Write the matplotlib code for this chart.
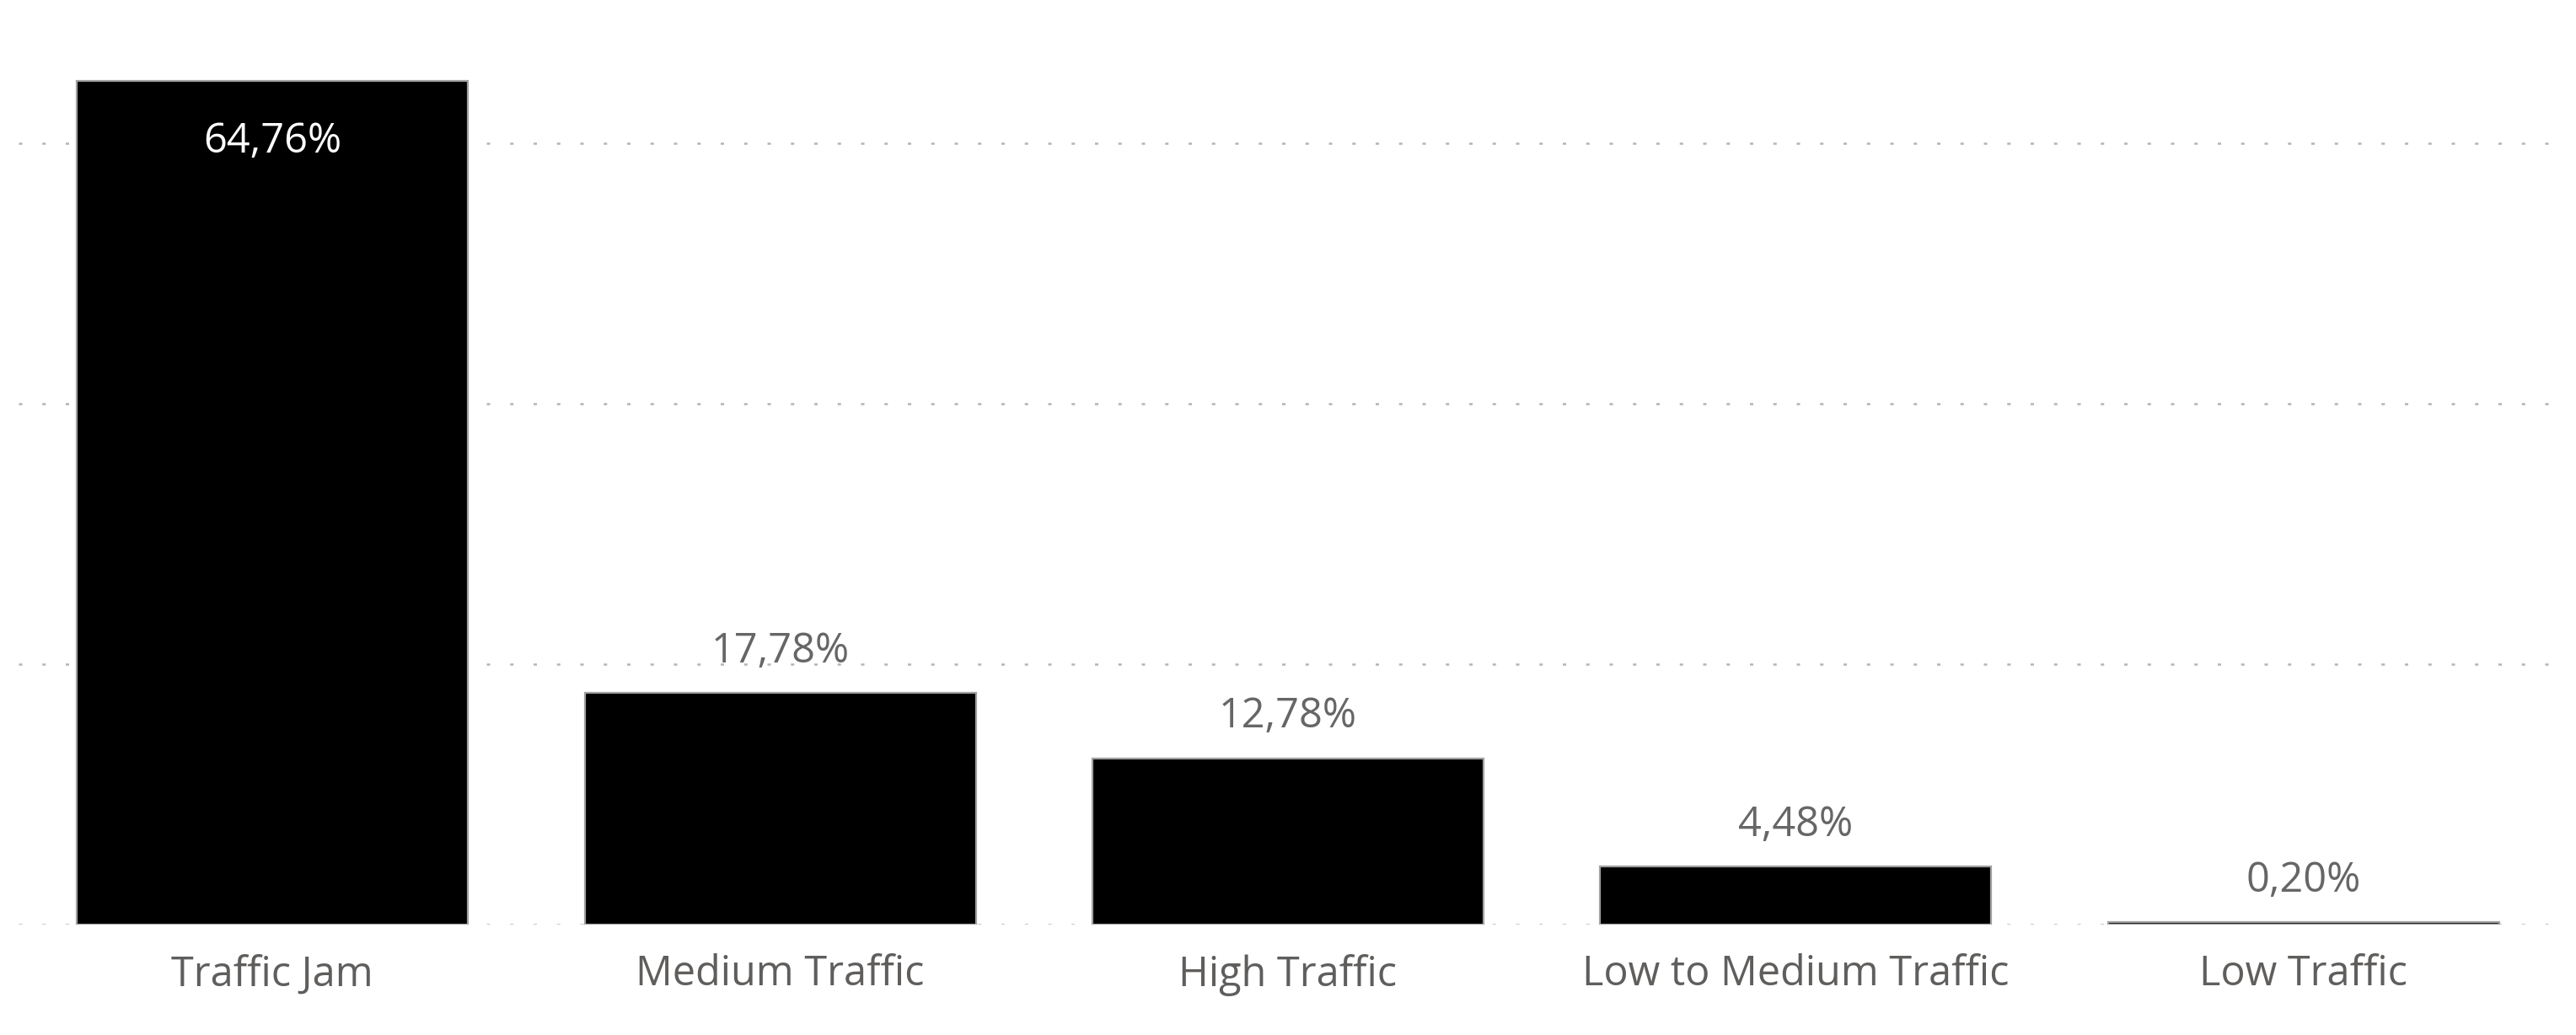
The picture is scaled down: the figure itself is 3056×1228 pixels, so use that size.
import matplotlib
matplotlib.use("Agg")
import matplotlib.pyplot as plt

categories = ["Traffic Jam", "Medium Traffic", "High Traffic", "Low to Medium Traffic", "Low Traffic"]
values = [64.76, 17.78, 12.78, 4.48, 0.20]
grid_ticks = [0, 20, 40, 60]

plt.rcParams['font.family'] = ['Open Sans', 'DejaVu Sans']

W, H = 3056, 1228
fig = plt.figure(figsize=(W / 100, H / 100), dpi=100)
ax = fig.add_axes([22 / W, (H - 1097) / H, (3034 - 22) / W, 1097 / H])

x = list(range(len(categories)))
bars = ax.bar(x, values, width=0.77, color='black', edgecolor='#a0a0a0',
              linewidth=1.6, zorder=3)

ax.set_xlim(-0.5, len(categories) - 0.5)
ax.set_ylim(0, 71)

for g in grid_ticks:
    ax.axhline(g, color='#b4b4b4', linewidth=1.8, linestyle=(0, (1.6, 9.5)), zorder=1)

for xi, v in zip(x, values):
    lab = f"{v:.2f}".replace('.', ',') + '%'
    if v > 50:
        ax.annotate(lab, (xi, v), xytext=(0, -34), textcoords='offset points',
                    ha='center', va='top', color='white', fontsize=35, zorder=4)
    else:
        ax.annotate(lab, (xi, v), xytext=(0, 26), textcoords='offset points',
                    ha='center', va='baseline', color='#666666', fontsize=35, zorder=4)

ax.set_xticks(x)
ax.set_xticklabels(categories, fontsize=35, color='#605E5C')
ax.tick_params(axis='x', length=0, pad=25)
ax.set_yticks([])
for s in ax.spines.values():
    s.set_visible(False)

fig.savefig("out.png", dpi=100, facecolor='white')
